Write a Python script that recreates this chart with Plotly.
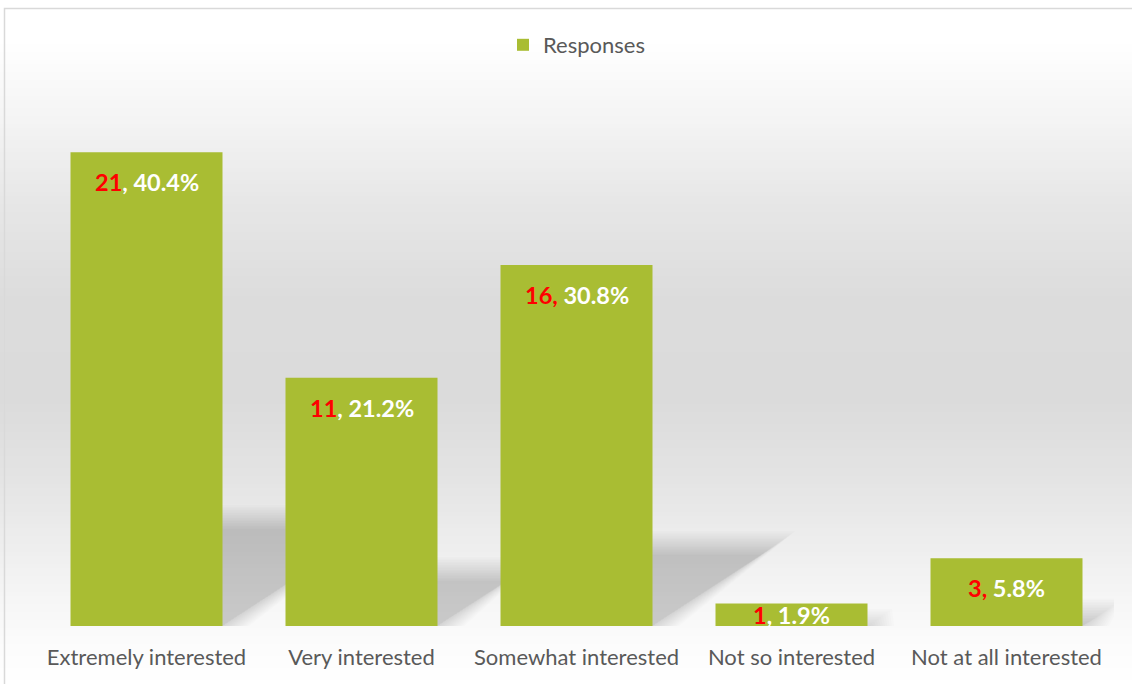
import plotly.graph_objects as go
import numpy as np

categories = ["Extremely interested", "Very interested", "Somewhat interested",
              "Not so interested", "Not at all interested"]
counts = [21, 11, 16, 1, 3]
percent_labels = ["40.4%", "21.2%", "30.8%", "1.9%", "5.8%"]
comma_is_red = [False, False, True, False, True]
series_name = "Responses"

W, H = 1132, 684
ML, MR, MT, MB = 39, 18, 62, 58
YMAX = 25
plot_w = W - ML - MR
plot_h = H - MT - MB
px_per_unit = plot_h / YMAX
px_per_cat = plot_w / len(categories)
BAR_W = 0.707

def px_to_paper(px, py):
    return (px - ML) / plot_w, (H - MB - py) / plot_h

shapes = []

# background gradient (white -> grey -> white)
stops = [(0, 255), (40, 255), (120, 244), (200, 231), (300, 220), (400, 219),
         (480, 228), (540, 237), (600, 246), (650, 252), (684, 255)]
sy = [s[0] for s in stops]
sg = [s[1] for s in stops]
step = 4
for py in range(0, H, step):
    g = int(round(np.interp(py + step / 2, sy, sg)))
    _, y1 = px_to_paper(0, py)
    _, y0 = px_to_paper(0, py + step)
    x0, _ = px_to_paper(-5, 0)
    x1, _ = px_to_paper(W + 5, 0)
    shapes.append(dict(type="rect", xref="paper", yref="paper", x0=x0, x1=x1,
                       y0=y0, y1=y1, fillcolor=f"rgb({g},{g},{g})",
                       line=dict(width=0), layer="below"))

# chart border (top and left visible)
bx0, by0 = px_to_paper(4.5, 8.5)
bx1, _ = px_to_paper(W + 10, 0)
_, by1 = px_to_paper(0, H + 10)
shapes.append(dict(type="path", xref="paper", yref="paper",
                   path=f"M {bx1},{by0} L {bx0},{by0} L {bx0},{by1}",
                   line=dict(color="#d9d9d9", width=1.5), layer="below"))

# soft perspective shadows behind bars (derived from bar heights)
n_layers = 16
for i, v in enumerate(counts):
    h_px = v * px_per_unit
    xR = i + BAR_W / 2
    dy_px = 0.23 * h_px
    dx_px = 0.35 * h_px
    for k in range(n_layers):
        e = -12 + 24 * k / (n_layers - 1)  # px blur offset
        top = max(dy_px + e, 0) / px_per_unit
        tip = xR + max(dx_px + 1.4 * e, 0) / px_per_cat
        base = xR + max(10 + 1.4 * e, 0) / px_per_cat
        path = (f"M {xR - 0.05},0 L {xR - 0.05},{top} L {tip},{top} "
                f"L {base},0 Z")
        shapes.append(dict(type="path", xref="x", yref="y", path=path,
                           fillcolor="rgba(0,0,0,0.0135)", line=dict(width=0),
                           layer="below"))

fig = go.Figure()
fig.add_trace(go.Bar(
    x=list(range(len(categories))), y=counts, name=series_name,
    marker=dict(color="#A9BD33", line=dict(width=0)), width=BAR_W,
    showlegend=True, hoverinfo="skip"))

annotations = []
for i, (c, p, red) in enumerate(zip(counts, percent_labels, comma_is_red)):
    if red:
        txt = f"<b><span style='color:#FF0000'>{c},</span> {p}</b>"
    else:
        txt = f"<b><span style='color:#FF0000'>{c}</span>, {p}</b>"
    off = min(30, c * px_per_unit / 2) / px_per_unit
    annotations.append(dict(x=i, y=c - off, xref="x", yref="y", text=txt,
                            showarrow=False, yanchor="middle",
                            font=dict(family="Lato", size=23.5, color="#FFFFFF")))

fig.update_layout(
    width=W, height=H, autosize=False,
    margin=dict(l=ML, r=MR, t=MT, b=MB, pad=0),
    paper_bgcolor="#FFFFFF", plot_bgcolor="rgba(0,0,0,0)",
    shapes=shapes, annotations=annotations,
    legend=dict(orientation="h", x=0.5, xanchor="center",
                y=px_to_paper(0, 45)[1], yanchor="middle",
                font=dict(family="Lato", size=22, color="#595959"),
                bgcolor="rgba(0,0,0,0)"),
    xaxis=dict(range=[-0.5, len(categories) - 0.5], tickmode="array",
               tickvals=list(range(len(categories))), ticktext=categories,
               showgrid=False, zeroline=False, showline=False,
               ticks="outside", ticklen=12, tickcolor="rgba(0,0,0,0)",
               tickfont=dict(family="Lato", size=22, color="#595959")),
    yaxis=dict(range=[0, YMAX], visible=False, showgrid=False),
    font=dict(family="Lato"),
)

fig.write_html("out.html",
               config={"displayModeBar": False, "staticPlot": True},
               post_script="document.body.style.margin='0px';"
                           "document.body.style.overflow='hidden';")
